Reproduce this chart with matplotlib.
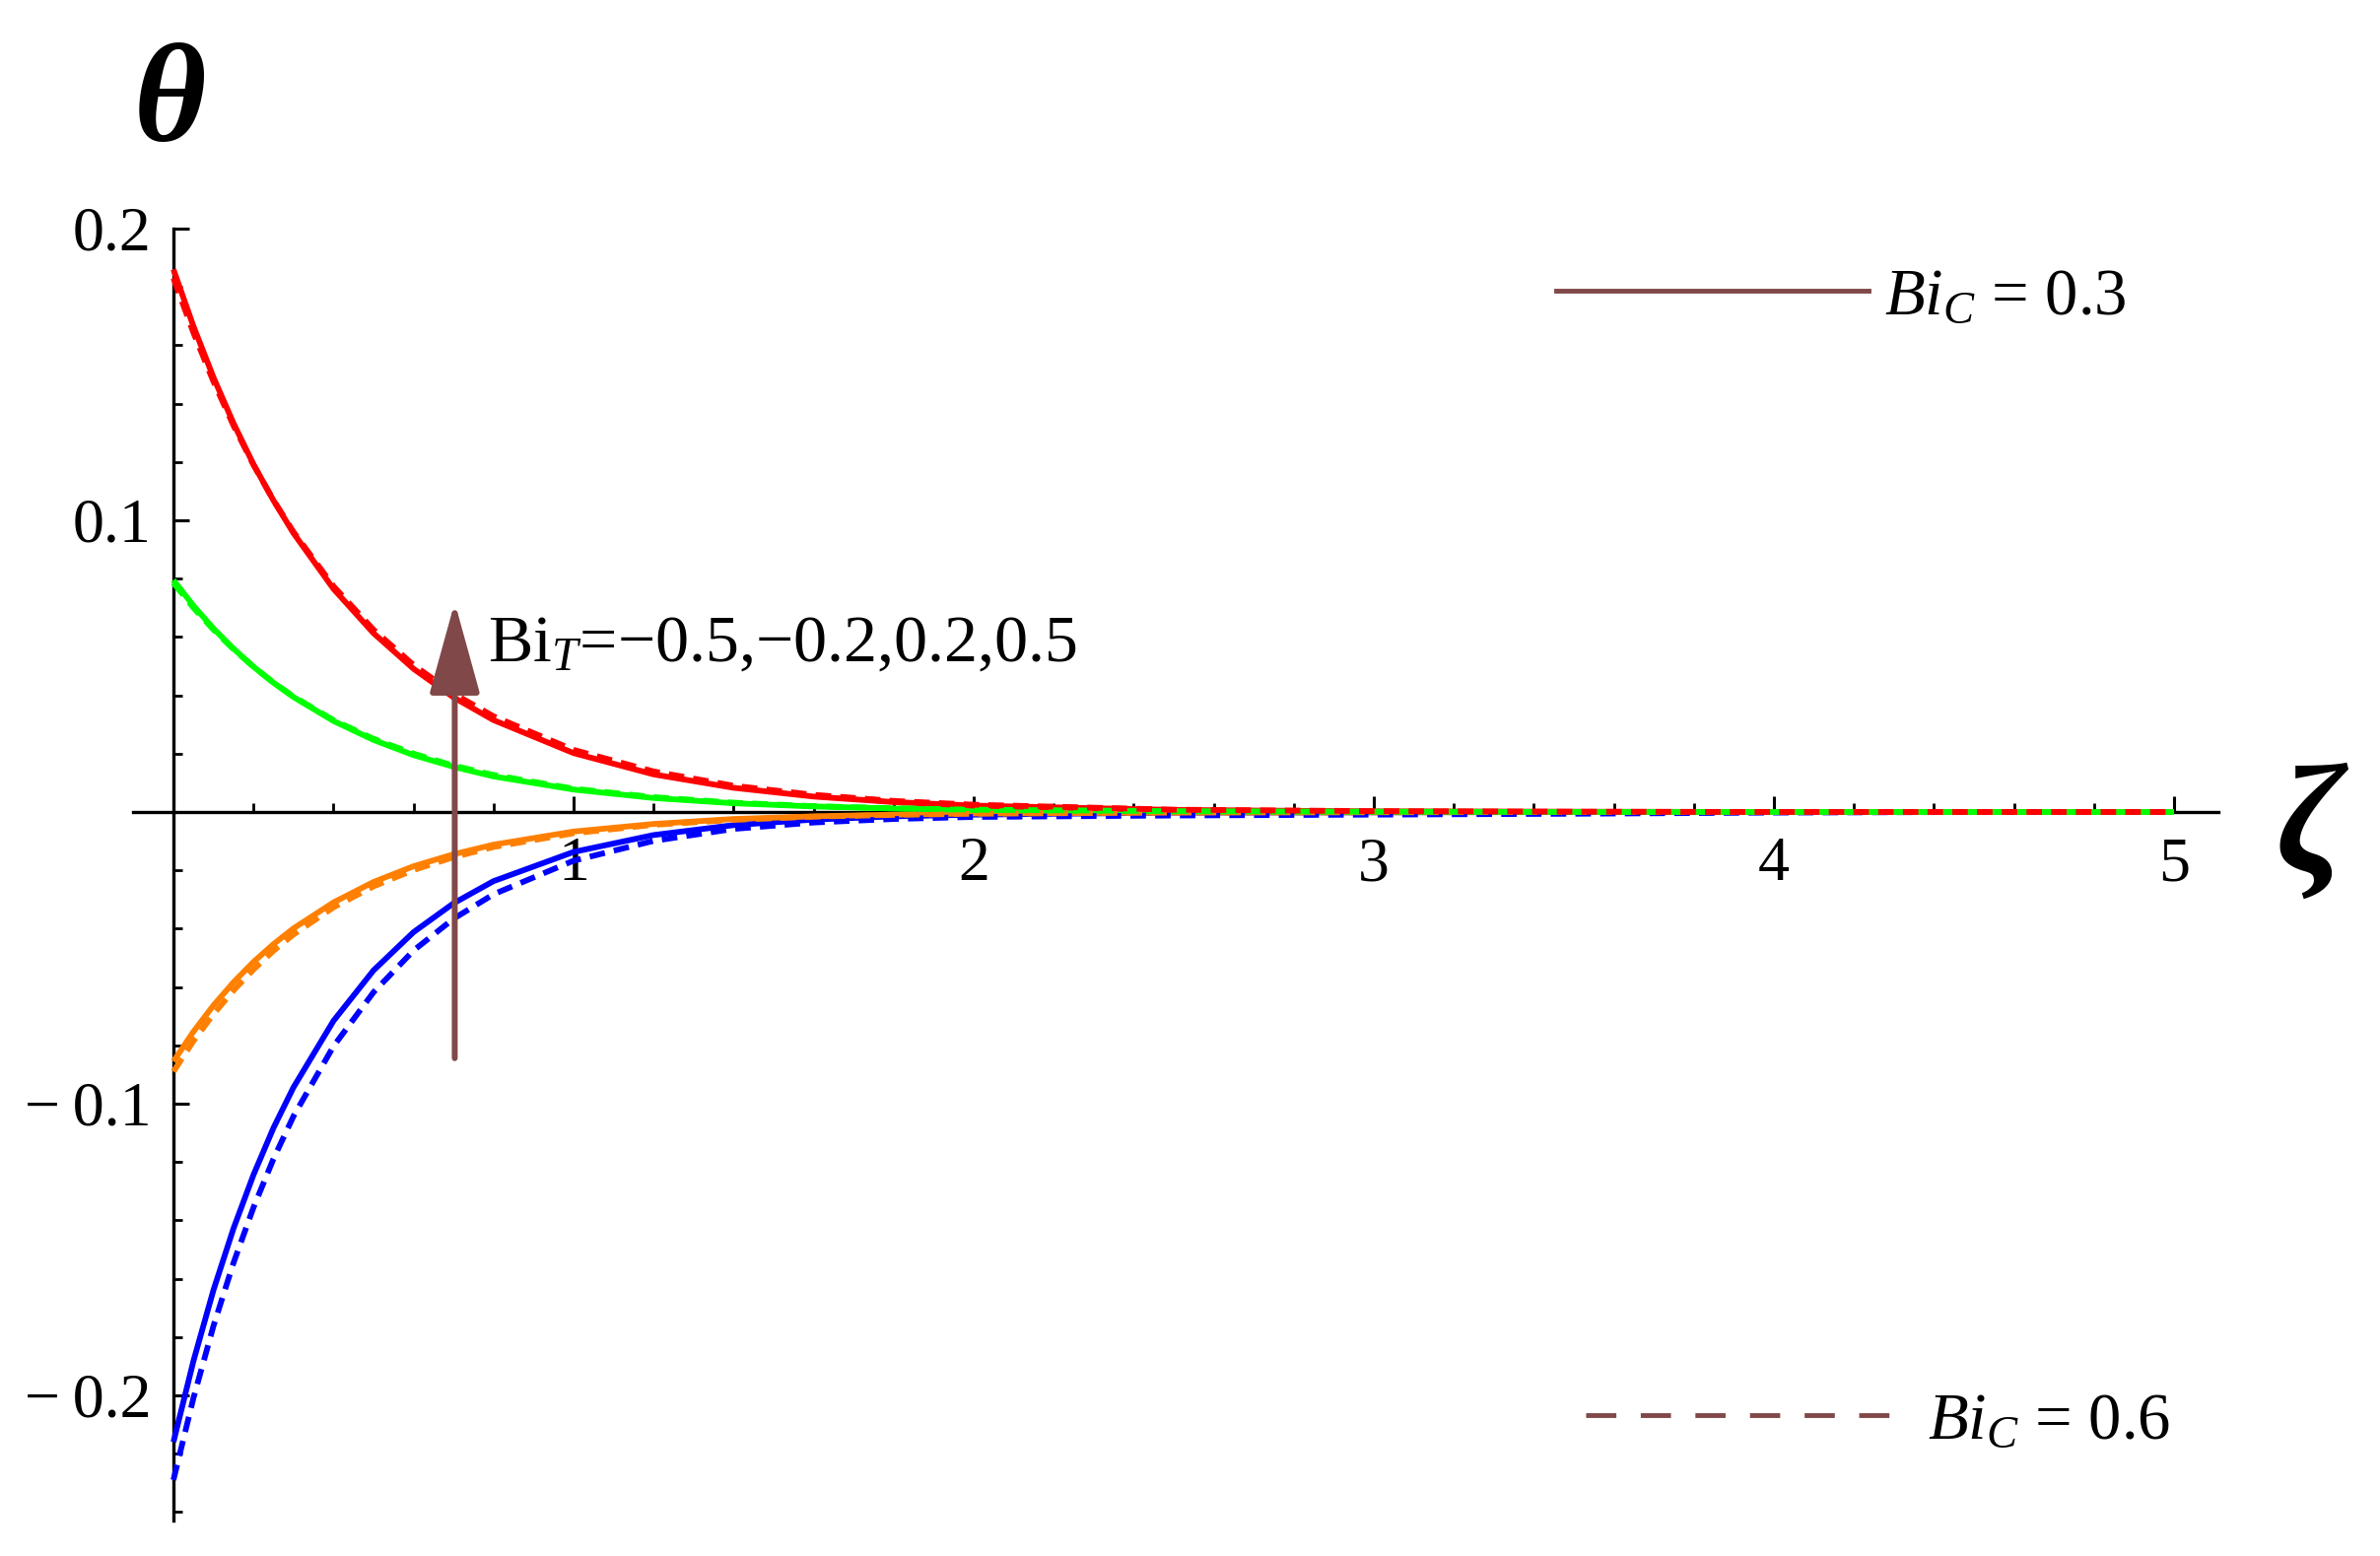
import matplotlib
matplotlib.use("Agg")
import matplotlib.pyplot as plt
from matplotlib.lines import Line2D

plt.rcParams['font.family'] = ['Liberation Serif', 'DejaVu Serif']
plt.rcParams['mathtext.fontset'] = 'custom'
plt.rcParams['mathtext.rm'] = 'Liberation Serif'
plt.rcParams['mathtext.it'] = 'Liberation Serif:italic'
plt.rcParams['mathtext.bf'] = 'Liberation Serif:bold'

# ---------------- data ----------------
zeta = [0, 0.05, 0.1, 0.15, 0.2, 0.25, 0.3, 0.4, 0.5, 0.6, 0.7, 0.8, 1.0,
        1.2, 1.4, 1.6, 1.8, 2.0, 2.5, 3.0, 3.5, 4.0, 4.5, 5.0]

# Bi_C = 0.3 (solid)
red_solid = [0.186, 0.1665, 0.149, 0.1333, 0.1192, 0.1068, 0.0956, 0.0765, 0.0613,
             0.0491, 0.0393, 0.0315, 0.0202, 0.0129, 0.0083, 0.0053, 0.0034, 0.0022,
             0.0007, 0.0002, 0.0001, 0.0, 0.0, 0.0]
green_solid = [0.0795, 0.0707, 0.0629, 0.0560, 0.0498, 0.0443, 0.0394, 0.0312, 0.0247,
               0.0195, 0.0155, 0.0122, 0.0077, 0.0048, 0.0030, 0.0019, 0.0012, 0.0007,
               0.0002, 0.0001, 0.0, 0.0, 0.0, 0.0]
orange_solid = [-0.0855, -0.0753, -0.0663, -0.0584, -0.0514, -0.0453, -0.0399, -0.0310,
                -0.0240, -0.0186, -0.0145, -0.0112, -0.0067, -0.0041, -0.0024, -0.0015,
                -0.0009, -0.0005, -0.0002, -0.0001, 0.0, 0.0, 0.0, 0.0]
blue_solid = [-0.216, -0.1882, -0.1639, -0.1428, -0.1244, -0.1083, -0.0944, -0.0716,
              -0.0543, -0.0412, -0.0313, -0.0237, -0.0137, -0.0079, -0.0045, -0.0026,
              -0.0015, -0.0009, -0.0002, -0.0001, 0.0, 0.0, 0.0, 0.0]

# Bi_C = 0.6 (dashed)
red_dashed = [0.183, 0.1643, 0.1476, 0.1325, 0.1190, 0.1069, 0.0960, 0.0774, 0.0625,
              0.0504, 0.0406, 0.0328, 0.0213, 0.0139, 0.0090, 0.0059, 0.0038, 0.0025,
              0.0008, 0.0003, 0.0001, 0.0, 0.0, 0.0]
green_dashed = [0.0785, 0.0700, 0.0625, 0.0558, 0.0498, 0.0444, 0.0396, 0.0315, 0.0251,
                0.0200, 0.0159, 0.0127, 0.0080, 0.0051, 0.0032, 0.0020, 0.0013, 0.0008,
                0.0003, 0.0001, 0.0, 0.0, 0.0, 0.0]
orange_dashed = [-0.089, -0.0785, -0.0693, -0.0612, -0.0540, -0.0476, -0.0420, -0.0327,
                 -0.0255, -0.0199, -0.0155, -0.0120, -0.0073, -0.0044, -0.0027, -0.0016,
                 -0.0010, -0.0006, -0.0002, -0.0001, 0.0, 0.0, 0.0, 0.0]
blue_dashed = [-0.229, -0.2009, -0.1762, -0.1546, -0.1356, -0.1189, -0.1043, -0.0803,
               -0.0618, -0.0475, -0.0366, -0.0282, -0.0167, -0.0099, -0.0058, -0.0036,
               -0.0024, -0.0017, -0.0012, -0.0009, -0.0006, -0.0002, 0.0, 0.0]

xticks = [1, 2, 3, 4, 5]
xticklabels = ["1", "2", "3", "4", "5"]
yticks = [-0.2, -0.1, 0.1, 0.2]
yticklabels = ["\u2212\u20090.2", "\u2212\u20090.1", "0.1", "0.2"]

arrow_x = 0.703
arrow_y0 = -0.0844
arrow_y1 = 0.0719
arrow_label = "Bi$_{T}$=\u22120.5,\u22120.2,0.2,0.5"

legend_labels = [r"$Bi_C$ = 0.3", r"$Bi_C$ = 0.6"]

# ---------------- style ----------------
RED = "#ff0000"
GREEN = "#00ff00"
ORANGE = "#ff8000"
BLUE = "#0000ff"
BROWN = "#804848"
LW = 4.2
DASH = (0, (2.7, 1.6))
FS = 46

W, H = 2415, 1579
fig = plt.figure(figsize=(W / 100, H / 100), dpi=100)
ax = fig.add_axes([0, 0, 1, 1])
ax.patch.set_visible(False)

# pixel mapping: x=0 at px 176, 406 px / unit ; y=0 at px 824 from top, 2960 px / unit
ax.set_xlim(-176 / 406, (W - 176) / 406)
ax.set_ylim(-(H - 824) / 2960, 824 / 2960)

series = [
    (blue_solid, BLUE, '-'), (orange_solid, ORANGE, '-'),
    (green_solid, GREEN, '-'), (red_solid, RED, '-'),
    (blue_dashed, BLUE, DASH), (orange_dashed, ORANGE, DASH),
    (green_dashed, GREEN, DASH), (red_dashed, RED, DASH),
]
for ys, c, ls in series:
    ax.plot(zeta, ys, color=c, lw=LW, ls=ls, solid_capstyle='butt',
            dash_capstyle='butt', zorder=3)

# axes through origin
for s in ['top', 'right']:
    ax.spines[s].set_visible(False)
ax.spines['left'].set_position(('data', 0))
ax.spines['bottom'].set_position(('data', 0))
ax.spines['left'].set_bounds(-0.243, 0.2)
ax.spines['bottom'].set_bounds(-0.10, 5.11)
for s in ['left', 'bottom']:
    ax.spines[s].set_linewidth(2.4)
    ax.spines[s].set_zorder(2)

ax.set_xticks(xticks)
ax.set_xticklabels(xticklabels)
ax.set_yticks(yticks)
ax.set_yticklabels(yticklabels)
ax.set_xticks([0.2, 0.4, 0.6, 0.8, 1.2, 1.4, 1.6, 1.8, 2.2, 2.4, 2.6, 2.8,
               3.2, 3.4, 3.6, 3.8, 4.2, 4.4, 4.6, 4.8], minor=True)
ax.set_yticks([-0.24, -0.22, -0.18, -0.16, -0.14, -0.12, -0.08, -0.06, -0.04, -0.02,
               0.02, 0.04, 0.06, 0.08, 0.12, 0.14, 0.16, 0.18], minor=True)
ax.tick_params(axis='both', which='major', direction='in', length=11.5, width=2.2,
               labelsize=FS, colors='black')
ax.tick_params(axis='both', which='minor', direction='in', length=6.5, width=2.0)
ax.tick_params(axis='y', which='major', pad=16)
ax.tick_params(axis='x', which='major', pad=18)

# arrow + label
ax.annotate('', xy=(arrow_x, arrow_y1), xytext=(arrow_x, arrow_y0),
            arrowprops=dict(arrowstyle='-|>,head_length=58,head_width=16',
                            mutation_scale=1, lw=4.3, color=BROWN,
                            shrinkA=0, shrinkB=0), zorder=5)
ax.text(0.785, 0.0575, arrow_label, fontsize=49, ha='left', va='center', zorder=6)

# legends
h1 = Line2D([], [], color=BROWN, lw=3.5, ls='-')
h2 = Line2D([], [], color=BROWN, lw=3.5, ls=(0, (6.3, 5.1)))
leg1 = ax.legend([h1], [legend_labels[0]], loc='center left',
                 bbox_to_anchor=(1579 / W, 1 - 302 / H), frameon=False,
                 fontsize=48, handlelength=4.75, handletextpad=0.25,
                 borderpad=0, borderaxespad=0)
ax.add_artist(leg1)
ax.legend([h2], [legend_labels[1]], loc='center left',
          bbox_to_anchor=(1609 / W, 1 - 1443 / H), frameon=False,
          fontsize=48, handlelength=4.9, handletextpad=0.3,
          borderpad=0, borderaxespad=0)

# axis labels
fig.text(172 / W, 1 - 108 / H, "\u03b8", fontsize=102, fontweight='bold',
         fontstyle='italic', ha='center', va='center')
fig.text(2344 / W, 1 - 846 / H, "\u03b6", fontsize=112, fontweight='bold',
         fontstyle='italic', ha='center', va='center')

fig.savefig("out.png", dpi=100)
